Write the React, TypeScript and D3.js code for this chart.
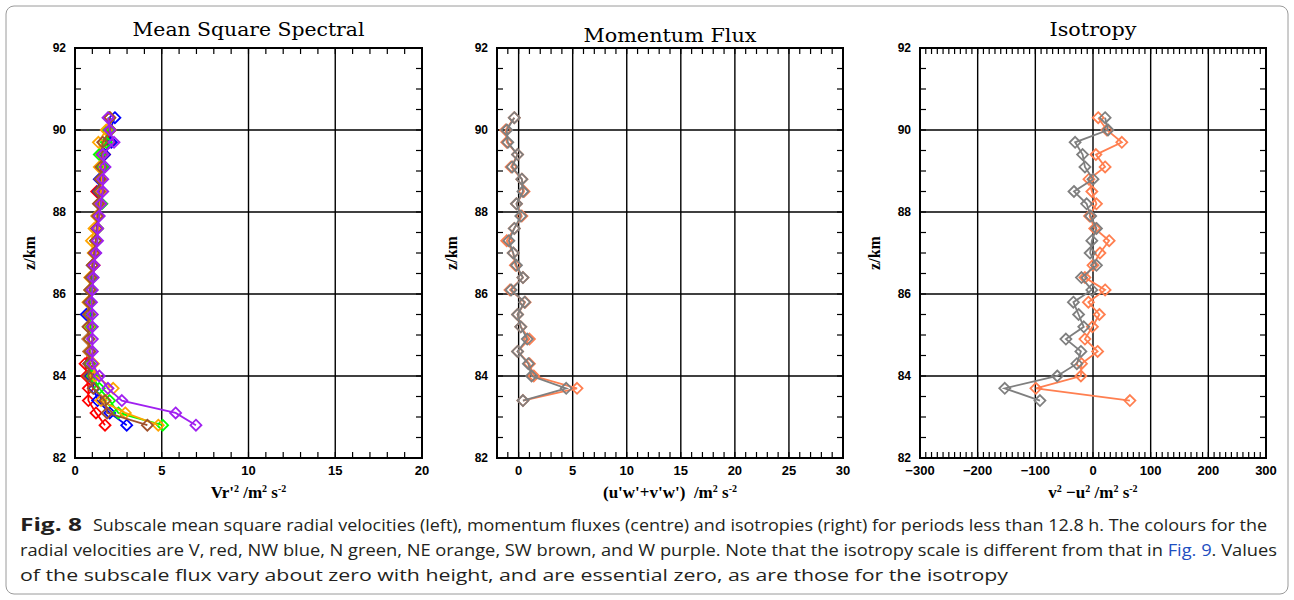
import React, { useRef, useEffect } from 'react'
import * as d3 from 'd3'

// heights of the profile points, km
const heights = [90.3, 90.0, 89.7, 89.4, 89.1, 88.8, 88.5, 88.2, 87.9, 87.6, 87.3, 87.0, 86.7, 86.4, 86.1, 85.8, 85.5, 85.2, 84.9, 84.6, 84.3, 84.0, 83.7, 83.4, 83.1, 82.8]

// mean square radial velocities per beam (m^2 s^-2)
const beamV = [2.0, 1.9, 2.0, 1.7, 1.6, 1.5, 1.25, 1.4, 1.3, 1.3, 1.2, 1.1, 1.1, 1.0, 0.9, 0.85, 0.8, 0.85, 0.8, 0.8, 0.58, 0.67, 0.77, 0.77, 1.21, 1.73]
const beamNW = [2.3, 2.0, 2.1, 1.7, 1.6, 1.4, 1.35, 1.45, 1.3, 1.25, 1.2, 1.15, 1.0, 0.95, 0.9, 0.8, 0.65, 0.8, 0.75, 0.8, 0.8, 0.85, 1.1, 1.3, 2.0, 2.98]
const beamN = [1.95, 1.9, 1.8, 1.4, 1.6, 1.5, 1.4, 1.55, 1.35, 1.3, 1.2, 1.15, 1.05, 1.0, 0.95, 0.9, 0.85, 0.9, 0.8, 0.85, 0.85, 1.0, 1.4, 2.0, 2.5, 5.05]
const beamNE = [2.0, 1.8, 1.35, 1.6, 1.4, 1.55, 1.5, 1.4, 1.25, 1.1, 0.95, 1.05, 1.0, 0.85, 0.85, 0.75, 0.8, 0.8, 0.75, 0.8, 1.06, 1.15, 2.2, 1.5, 2.9, 4.8]
const beamSW = [2.0, 2.05, 1.6, 1.55, 1.5, 1.45, 1.4, 1.35, 1.3, 1.25, 1.2, 1.1, 1.0, 0.9, 0.85, 0.8, 0.8, 0.75, 0.8, 0.85, 0.8, 0.77, 1.05, 1.73, 1.85, 4.17]
const beamW = [1.9, 2.0, 2.25, 1.6, 1.73, 1.6, 1.6, 1.5, 1.4, 1.3, 1.3, 1.2, 1.1, 1.05, 1.0, 0.95, 1.0, 1.0, 1.0, 1.0, 1.0, 1.4, 1.9, 2.7, 5.8, 6.97]

// momentum flux, grey and orange
const fluxGrey = [-0.4, -1.1, -1.0, -0.1, -0.6, 0.3, 0.4, -0.2, 0.2, -0.4, -0.9, -0.5, -0.2, 0.4, -0.7, 0.55, -0.1, 0.2, 0.8, -0.1, 0.9, 1.2, 4.4, 0.4]
const fluxOrange = [-0.4, -1.2, -1.1, -0.1, -0.7, 0.3, 0.5, -0.2, 0.3, -0.4, -1.1, -0.5, -0.3, 0.4, -0.8, 0.6, -0.1, 0.2, 1.0, -0.1, 1.0, 1.4, 5.4, 0.4]

// isotropy v^2 - u^2
const isoGrey = [21, 26, -31, -18, -14, 0, -33, -11, -4, 6, -2, -5, 6, -20, -2, -34, -25, -16, -47, -21, -28, -62, -153, -92]
const isoOrange = [9, 24, 50, 5, 21, -7, -2, 6, -6, 3, 28, 12, 0, -14, 21, -8, 11, -1, -14, 8, -20, -21, -99, 64]

const zTicks = [82, 84, 86, 88, 90, 92]
const msTicks = [0, 5, 10, 15, 20]
const fluxTicks = [0, 5, 10, 15, 20, 25, 30]
const isoTicks = [-300, -200, -100, 0, 100, 200, 300]

const titleFont = '"DejaVu Serif", serif'
const labelFont = '"Liberation Serif", serif'
const tickFont = '"Liberation Sans", Arial, sans-serif'

export default function App() {
  const ref = useRef<SVGSVGElement>(null)

  useEffect(() => {
    const svg = d3.select(ref.current)
    svg.selectAll('*').remove()

    const top = 48
    const bottom = 458
    const y = d3.scaleLinear().domain([82, 92]).range([bottom, top])

    const panels = [
      {
        left: 75, right: 422, domain: [0, 20], ticks: msTicks, minor: 1,
        title: 'Mean Square Spectral', titleY: 36, titleLen: 232,
        xlabel: [['Vr\'', 0], ['2', 1], [' /m', 0], ['2', 1], [' s', 0], ['-2', 1]],
        series: [
          { v: beamV, c: '#ff0000' },
          { v: beamNW, c: '#0000ff' },
          { v: beamN, c: '#00ff00' },
          { v: beamNE, c: '#ffa500' },
          { v: beamSW, c: '#a0522d' },
          { v: beamW, c: '#a020f0' },
        ],
      },
      {
        left: 497, right: 843, domain: [-2, 30], ticks: fluxTicks, minor: 1,
        title: 'Momentum Flux', titleY: 42, titleLen: 173,
        xlabel: [['(u\'w\'+v\'w\')  /m', 0], ['2', 1], [' s', 0], ['-2', 1]],
        series: [
          { v: fluxOrange, c: '#ff7f50' },
          { v: fluxGrey, c: '#7f7f7f' },
        ],
      },
      {
        left: 920, right: 1266, domain: [-300, 300], ticks: isoTicks, minor: 10,
        title: 'Isotropy', titleY: 36, titleLen: 87,
        xlabel: [['v', 0], ['2', 1], [' \u2212u', 0], ['2', 1], [' /m', 0], ['2', 1], [' s', 0], ['-2', 1]],
        series: [
          { v: isoOrange, c: '#ff7f50' },
          { v: isoGrey, c: '#7f7f7f' },
        ],
      },
    ]

    panels.forEach(p => {
      const x = d3.scaleLinear().domain(p.domain).range([p.left, p.right])
      const g = svg.append('g')

      // grid lines at the major ticks
      g.selectAll('.vgrid')
        .data(p.ticks.filter(t => t > p.domain[0] && t < p.domain[1]))
        .enter()
        .append('line')
        .attr('x1', d => x(d)).attr('x2', d => x(d))
        .attr('y1', top).attr('y2', bottom)
        .attr('stroke', '#000').attr('stroke-width', 1.4)
      g.selectAll('.hgrid')
        .data(zTicks.filter(t => t > 82 && t < 92))
        .enter()
        .append('line')
        .attr('x1', p.left).attr('x2', p.right)
        .attr('y1', d => y(d)).attr('y2', d => y(d))
        .attr('stroke', '#000').attr('stroke-width', 1.4)

      // minor ticks, inward on all four sides
      const xm = d3.range(p.domain[0], p.domain[1] + 1e-9, p.minor)
      xm.forEach(v => {
        g.append('line').attr('x1', x(v)).attr('x2', x(v)).attr('y1', bottom).attr('y2', bottom - 6)
          .attr('stroke', '#000').attr('stroke-width', 1.2)
        g.append('line').attr('x1', x(v)).attr('x2', x(v)).attr('y1', top).attr('y2', top + 6)
          .attr('stroke', '#000').attr('stroke-width', 1.2)
      })
      d3.range(82, 92.001, 0.5).forEach(v => {
        g.append('line').attr('x1', p.left).attr('x2', p.left + 6).attr('y1', y(v)).attr('y2', y(v))
          .attr('stroke', '#000').attr('stroke-width', 1.2)
        g.append('line').attr('x1', p.right).attr('x2', p.right - 6).attr('y1', y(v)).attr('y2', y(v))
          .attr('stroke', '#000').attr('stroke-width', 1.2)
      })

      // frame
      g.append('rect')
        .attr('x', p.left).attr('y', top)
        .attr('width', p.right - p.left).attr('height', bottom - top)
        .attr('fill', 'none').attr('stroke', '#000').attr('stroke-width', 2)

      // tick labels
      g.selectAll('.xl')
        .data(p.ticks)
        .enter()
        .append('text')
        .attr('x', d => x(d))
        .attr('y', bottom + 17)
        .attr('text-anchor', 'middle')
        .attr('font-family', tickFont)
        .attr('font-weight', 'bold')
        .attr('font-size', 13)
        .text(d => (d < 0 ? '\u2212' + Math.abs(d) : String(d)))
      g.selectAll('.yl')
        .data(zTicks)
        .enter()
        .append('text')
        .attr('x', p.left - 9)
        .attr('y', d => y(d) + 4)
        .attr('text-anchor', 'end')
        .attr('font-family', tickFont)
        .attr('font-weight', 'bold')
        .attr('font-size', 12)
        .text(d => d)

      // title
      g.append('text')
        .attr('x', (p.left + p.right) / 2)
        .attr('y', p.titleY)
        .attr('text-anchor', 'middle')
        .attr('font-family', titleFont)
        .attr('font-size', 18)
        .attr('textLength', p.titleLen)
        .attr('lengthAdjust', 'spacingAndGlyphs')
        .text(p.title)

      // y label
      g.append('text')
        .attr('transform', `translate(${p.left - 40},${(top + bottom) / 2}) rotate(-90)`)
        .attr('text-anchor', 'middle')
        .attr('font-family', labelFont)
        .attr('font-weight', 'bold')
        .attr('font-size', 16)
        .text('z/km')

      // x label with superscripts
      const xl = g.append('text')
        .attr('x', (p.left + p.right) / 2)
        .attr('y', bottom + 40)
        .attr('text-anchor', 'middle')
        .attr('font-family', labelFont)
        .attr('font-weight', 'bold')
        .attr('font-size', 17)
        .attr('xml:space', 'preserve')
      let raised = false
      p.xlabel.forEach(([t, sup]) => {
        const span = xl.append('tspan').text(t as string)
        if (sup && !raised) {
          span.attr('dy', -6).attr('font-size', 10)
          raised = true
        } else if (!sup && raised) {
          span.attr('dy', 6)
          raised = false
        }
      })

      // series: line then diamonds
      const line = d3.line<number>()
        .x(d => x(d))
        .y((d, i) => y(heights[i]))
      const s = 5.5
      p.series.forEach(ser => {
        g.append('path')
          .datum(ser.v)
          .attr('d', line)
          .attr('fill', 'none')
          .attr('stroke', ser.c)
          .attr('stroke-width', 1.8)
        g.selectAll(null)
          .data(ser.v)
          .enter()
          .append('path')
          .attr('d', `M0,${-s}L${s},0L0,${s}L${-s},0Z`)
          .attr('transform', (d, i) => `translate(${x(d)},${y(heights[i])})`)
          .attr('fill', 'none')
          .attr('stroke', ser.c)
          .attr('stroke-width', 1.8)
      })
    })

    // caption
    const capFont = '"Open Sans", "Noto Sans", sans-serif'
    const cap = svg.append('g').attr('fill', '#231f20').attr('font-family', capFont).attr('font-size', 16)
    cap.append('text').attr('x', 20).attr('y', 531).attr('font-weight', 'bold').attr('font-size', 18)
      .attr('textLength', 62).attr('lengthAdjust', 'spacingAndGlyphs').text('Fig. 8')
    cap.append('text').attr('x', 93).attr('y', 531)
      .attr('textLength', 1174).attr('lengthAdjust', 'spacingAndGlyphs')
      .text('Subscale mean square radial velocities (left), momentum fluxes (centre) and isotropies (right) for periods less than 12.8 h. The colours for the')
    const l2 = cap.append('text').attr('x', 20).attr('y', 556)
      .attr('textLength', 1257).attr('lengthAdjust', 'spacingAndGlyphs')
    l2.append('tspan').text('radial velocities are V, red, NW blue, N green, NE orange, SW brown, and W purple. Note that the isotropy scale is different from that in ')
    l2.append('tspan').attr('fill', '#1f4fc1').text('Fig. 9')
    l2.append('tspan').text('. Values')
    cap.append('text').attr('x', 20).attr('y', 581)
      .attr('textLength', 988).attr('lengthAdjust', 'spacingAndGlyphs')
      .text('of the subscale flux vary about zero with height, and are essential zero, as are those for the isotropy')

    // outer border
    svg.append('rect')
      .attr('x', 6).attr('y', 6).attr('width', 1282).attr('height', 588)
      .attr('rx', 8)
      .attr('fill', 'none').attr('stroke', '#9a9a9a').attr('stroke-width', 1)
  }, [])

  return (
    <svg
      ref={ref}
      width={1294}
      height={600}
      style={{ position: 'absolute', left: 0, top: 0, background: '#fff' }}
    ></svg>
  )
}
